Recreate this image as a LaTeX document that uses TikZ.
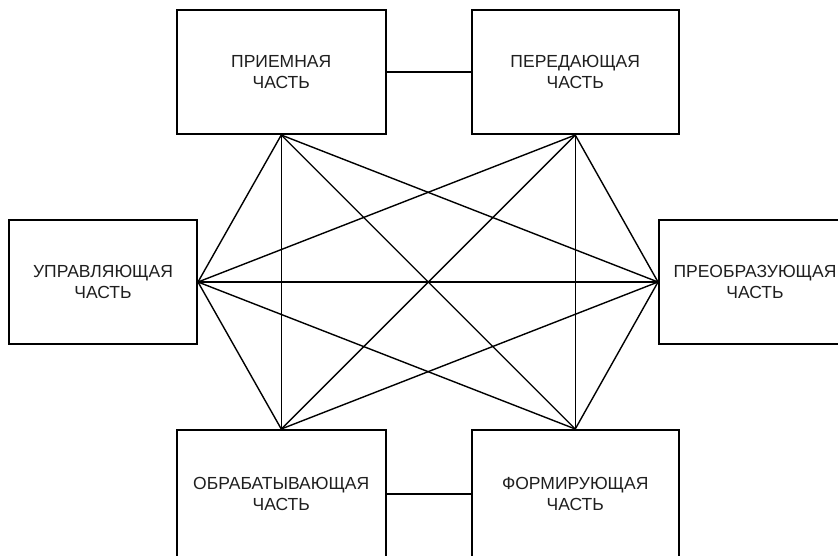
\documentclass[tikz,border=0pt]{standalone}
\usepackage{fontspec}
\setmainfont{Liberation Sans}
\tikzset{
  part/.style={draw, line width=2pt, minimum height=124pt, align=center,
    inner sep=0pt, font=\fontsize{17.5}{20.7}\selectfont, text=black!88},
  link/.style={line width=1.4pt},
}
\begin{document}
\begin{tikzpicture}[x=1pt, y=-1pt]
  \useasboundingbox (0,0) rectangle (838,555);
  \clip (0,0) rectangle (838,555);
  \fill[white] (0,0) rectangle (838,555);

  % the six parts of the system
  \node[part, minimum width=208.5pt] (rec) at (281.25,72)  {ПРИЕМНАЯ\\ЧАСТЬ};
  \node[part, minimum width=207.5pt] (tra) at (575.25,72)  {ПЕРЕДАЮЩАЯ\\ЧАСТЬ};
  \node[part, minimum width=188pt]   (ctl) at (103,282)    {УПРАВЛЯЮЩАЯ\\ЧАСТЬ};
  \node[part, minimum width=200pt]   (cnv) at (759,282)    {\hspace*{-8pt}ПРЕОБРАЗУЮЩАЯ\\\hspace*{-8pt}ЧАСТЬ};
  \node[part, minimum width=208.5pt, minimum height=128pt] (prc) at (281.25,494) {ОБРАБАТЫВАЮЩАЯ\\ЧАСТЬ};
  \node[part, minimum width=207.5pt, minimum height=128pt] (frm) at (575.25,494) {ФОРМИРУЮЩАЯ\\ЧАСТЬ};

  % side links between neighbouring parts
  \draw[link] (rec.east) -- (tra.west);
  \draw[link] (prc.east) -- (frm.west);

  % links through the middle
  \draw[link] (rec.south) -- (ctl.east);
  \draw[link] (rec.south) -- (prc.north);
  \draw[link] (rec.south) -- (frm.north);
  \draw[link] (rec.south) -- (cnv.west);
  \draw[link] (tra.south) -- (ctl.east);
  \draw[link] (tra.south) -- (prc.north);
  \draw[link] (tra.south) -- (frm.north);
  \draw[link] (tra.south) -- (cnv.west);
  \draw[link] (ctl.east) -- (cnv.west);
  \draw[link] (ctl.east) -- (prc.north);
  \draw[link] (ctl.east) -- (frm.north);
  \draw[link] (cnv.west) -- (prc.north);
  \draw[link] (cnv.west) -- (frm.north);
\end{tikzpicture}
\end{document}
